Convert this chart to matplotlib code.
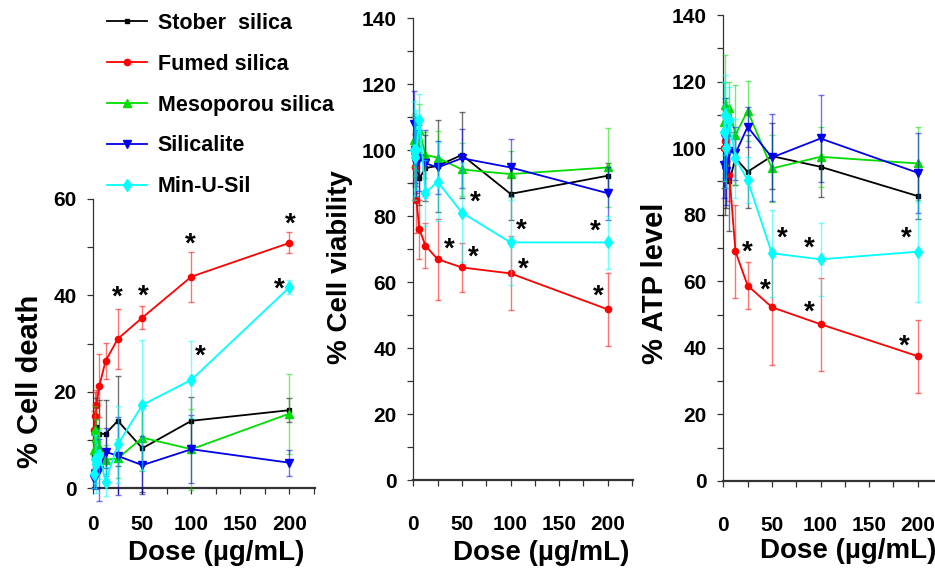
import matplotlib
matplotlib.use("Agg")
import matplotlib.pyplot as plt
from matplotlib.colors import to_rgba
from matplotlib.ticker import MultipleLocator

plt.rcParams['font.family'] = ['Liberation Sans', 'DejaVu Sans']
plt.rcParams['font.weight'] = 'bold'

# ---------------- data ----------------
doses = [0.78, 1.56, 3.125, 6.25, 12.5, 25, 50, 100, 200]
materials = ["Stober  silica", "Fumed silica", "Mesoporou silica", "Silicalite", "Min-U-Sil"]
colors = ["#000000", "#ff0000", "#00dd00", "#0000ee", "#00ffff"]
markers = ["s", "o", "^", "v", "d"]
msizes = [3.5, 4.5, 6, 6, 6.5]

# % Cell death
death_stober = [7, 10, 12.8, 11.3, 11.3, 14.0, 8.3, 14.0, 16.2]
death_stober_err = [4, 5, 6, 7, 7, 9.3, 9, 5, 2.5]
death_fumed = [12, 15, 17.3, 21.3, 26.4, 31.0, 35.4, 43.9, 50.9]
death_fumed_err = [4, 5, 3, 6.5, 3.7, 6.2, 2.4, 5.2, 2.2]
death_meso = [8, 12, 10.4, 8.6, 5.9, 6.2, 10.5, 8.1, 15.5]
death_meso_err = [4, 5, 4, 4, 3, 4, 7, 8.4, 8.3]
death_silic = [2, 3, 2.8, 3.8, 7.6, 6.7, 4.8, 8.1, 5.3]
death_silic_err = [2, 3, 3, 6.5, 5, 8, 6, 7, 2.7]
death_minu = [3, 6, 5, 7, 1.4, 9.1, 17.3, 22.5, 41.7]
death_minu_err = [3, 5, 6, 5, 3, 8, 13.5, 8, 1.5]

# % Cell viability
viab_stober = [100, 97, 95, 91.4, 94.5, 95.2, 98.5, 86.7, 92.2]
viab_stober_err = [10, 8, 8, 8, 10, 14, 13, 8, 4]
viab_fumed = [100, 95, 85, 76, 71, 66.9, 64.4, 62.6, 51.7]
viab_fumed_err = [10, 10, 10, 9, 6.8, 12.3, 7.3, 11.2, 11]
viab_meso = [103, 100, 102, 106, 98.5, 97.7, 94.1, 92.7, 94.7]
viab_meso_err = [8, 8, 8, 8, 7, 8, 8, 7, 12]
viab_silic = [108, 100, 96, 97.5, 96, 94.7, 97.5, 94.7, 86.9]
viab_silic_err = [10, 10, 10, 10, 10, 8, 9, 8.5, 8]
viab_minu = [100, 98, 100, 109, 87, 90.4, 81.0, 72.0, 72.0]
viab_minu_err = [15, 12, 12, 8, 10, 12, 15, 13, 8]

# % ATP level
atp_stober = [100, 95, 92, 90, 97, 92.9, 97.6, 94.4, 85.6]
atp_stober_err = [12, 15, 10, 15, 8, 11, 10, 9, 7]
atp_fumed = [100, 102, 96, 92, 69, 58.7, 52.2, 47.1, 37.5]
atp_fumed_err = [10, 12, 8, 8, 14, 7, 17.5, 14, 11]
atp_meso = [108, 113, 105, 112, 104, 111.2, 93.9, 97.4, 95.4]
atp_meso_err = [12, 15, 10, 8, 15, 9, 10, 9, 11]
atp_silic = [95, 103, 93, 99, 98.4, 106.4, 97.2, 102.9, 92.6]
atp_silic_err = [10, 12, 10, 8, 8, 6, 13, 13, 12]
atp_minu = [105, 110, 100, 108.4, 96.9, 90.4, 68.4, 66.6, 68.9]
atp_minu_err = [15, 12, 12, 10, 12, 7, 13, 11, 15]

# significance stars (dose, value)
stars_death_x = [24, 50.7, 98.7, 200.7, 189.5, 109]
stars_death_y = [39.5, 39.7, 50.5, 54.6, 41.2, 27.3]
stars_viab_x = [63.3, 37.3, 61.8, 111.3, 113.4, 187.3, 190.7]
stars_viab_y = [84.0, 69.9, 67.5, 75.5, 63.6, 75.2, 55.5]
stars_atp_x = [60.3, 88.8, 188.6, 24.9, 42.8, 88.8, 186.5]
stars_atp_y = [72.9, 69.9, 72.9, 68.6, 57.1, 50.6, 40.3]

y_labels = ["% Cell death", "% Cell viability", "% ATP level"]
x_label = "Dose (\u00b5g/mL)"
x_ticks = [0, 50, 100, 150, 200]

# ---------------- figure ----------------
W, H = 935, 572
fig = plt.figure(figsize=(W / 100, H / 100), dpi=100)

def px_axes(left, right, bottom, top):
    return fig.add_axes([left / W, 1 - bottom / H, (right - left) / W, (bottom - top) / H])

ax1 = px_axes(93.3, 315, 488.3, 199)
ax2 = px_axes(413.3, 633, 480, 18)
ax3 = px_axes(723.3, 943, 481, 15)

panels = [
    (ax1, [death_stober, death_fumed, death_meso, death_silic, death_minu],
     [death_stober_err, death_fumed_err, death_meso_err, death_silic_err, death_minu_err],
     (0, 60), stars_death_x, stars_death_y, 15),
    (ax2, [viab_stober, viab_fumed, viab_meso, viab_silic, viab_minu],
     [viab_stober_err, viab_fumed_err, viab_meso_err, viab_silic_err, viab_minu_err],
     (0, 140), stars_viab_x, stars_viab_y, 21),
    (ax3, [atp_stober, atp_fumed, atp_meso, atp_silic, atp_minu],
     [atp_stober_err, atp_fumed_err, atp_meso_err, atp_silic_err, atp_minu_err],
     (0, 140), stars_atp_x, stars_atp_y, 21),
]

legend_handles = []
for pi, (ax, series, errs, ylim, sx, sy, xpad) in enumerate(panels):
    for i, (vals, err) in enumerate(zip(series, errs)):
        cont = ax.errorbar(doses, vals, yerr=err, color=colors[i], marker=markers[i],
                           ms=msizes[i], lw=1.3, elinewidth=1.0, capsize=2.5, capthick=1.0,
                           ecolor=to_rgba(colors[i], 0.55), clip_on=False, zorder=3 + i)
        if pi == 0:
            legend_handles.append(cont[0])
    for x, y in zip(sx, sy):
        ax.text(x, y, "*", ha="center", va="center", fontsize=20, fontweight="bold",
                color="black")
    ax.set_xlim(0, 226)
    ax.set_ylim(*ylim)
    ax.xaxis.set_major_locator(MultipleLocator(50))
    ax.xaxis.set_minor_locator(MultipleLocator(25))
    ax.yaxis.set_major_locator(MultipleLocator(20))
    ax.yaxis.set_minor_locator(MultipleLocator(10))
    ax.set_xticks(x_ticks)
    for s in ["top", "right"]:
        ax.spines[s].set_visible(False)
    ax.spines["left"].set_linewidth(0.9)
    ax.spines["left"].set_color("#333333")
    ax.spines["bottom"].set_linewidth(1.6)
    ax.spines["bottom"].set_color("#333333")
    ax.tick_params(axis="both", which="both", direction="out", color="#333333", width=0.9)
    ax.tick_params(axis="both", which="major", length=4)
    ax.tick_params(axis="both", which="minor", length=4)
    ax.tick_params(axis="y", which="major", labelsize=15, pad=8)
    ax.tick_params(axis="x", which="major", labelsize=15, pad=xpad)
    for lab in ax.get_xticklabels() + ax.get_yticklabels():
        lab.set_fontweight("bold")

# axis titles
fig.text(30 / W, 1 - 381 / H, y_labels[0], rotation=90, ha="center", va="center",
         fontsize=21, fontweight="bold")
fig.text(340 / W, 1 - 267 / H, y_labels[1], rotation=90, ha="center", va="center",
         fontsize=20, fontweight="bold")
fig.text(655 / W, 1 - 283 / H, y_labels[2], rotation=90, ha="center", va="center",
         fontsize=21, fontweight="bold")
for cx, cy in [(216, 553), (541, 553), (848, 551)]:
    fig.text(cx / W, 1 - cy / H, x_label, ha="center", va="center",
             fontsize=20, fontweight="bold")

fig.legend(legend_handles, materials, loc="upper left",
           bbox_to_anchor=(107 / W, 1 - 13 / H), frameon=False,
           prop={"size": 15.5, "weight": "bold"}, handlelength=1.85,
           handletextpad=0.5, labelspacing=0.92, borderpad=0, borderaxespad=0)

fig.savefig("out.png", dpi=100)
